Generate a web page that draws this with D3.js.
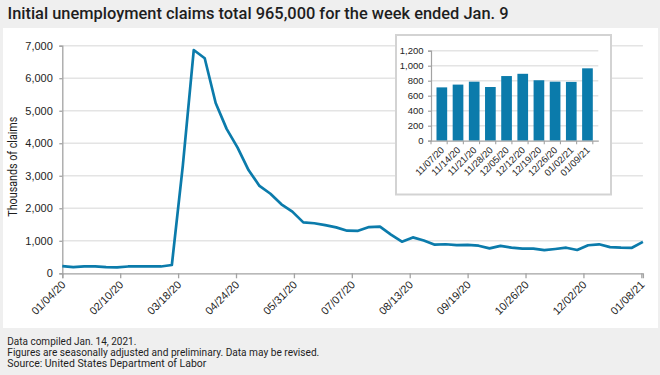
<!DOCTYPE html>
<html>
<head>
<meta charset="utf-8">
<script src="https://cdn.jsdelivr.net/npm/d3@7"></script>
<style>
  html, body { margin: 0; padding: 0; background: #efefef; }
  svg { display: block; }
</style>
</head>
<body>
<div id="chart"></div>
<script>
// weekly initial claims, thousands (week ending)
var weeks = [
  '01/04/20', '01/11/20', '01/18/20', '01/25/20', '02/01/20', '02/08/20', '02/15/20', '02/22/20', '02/29/20',
  '03/07/20', '03/14/20', '03/21/20', '03/28/20', '04/04/20', '04/11/20', '04/18/20', '04/25/20',
  '05/02/20', '05/09/20', '05/16/20', '05/23/20', '05/30/20', '06/06/20', '06/13/20', '06/20/20', '06/27/20',
  '07/04/20', '07/11/20', '07/18/20', '07/25/20', '08/01/20', '08/08/20', '08/15/20', '08/22/20', '08/29/20',
  '09/05/20', '09/12/20', '09/19/20', '09/26/20', '10/03/20', '10/10/20', '10/17/20', '10/24/20', '10/31/20',
  '11/07/20', '11/14/20', '11/21/20', '11/28/20', '12/05/20', '12/12/20', '12/19/20', '12/26/20',
  '01/02/21', '01/09/21'
];
var claims = [
  220, 190, 210, 210, 190, 185, 210, 215, 215,
  210, 255, 3307, 6867, 6615, 5237, 4442, 3867,
  3176, 2687, 2446, 2123, 1897, 1566, 1540, 1482, 1413,
  1310, 1307, 1422, 1435, 1191, 971, 1104, 1011, 881,
  893, 866, 873, 849, 767, 845, 791, 758, 757,
  711, 748, 787, 716, 862, 892, 806, 787,
  784, 965
];
var xTicks = ['01/04/20', '02/10/20', '03/18/20', '04/24/20', '05/31/20', '07/07/20',
  '08/13/20', '09/19/20', '10/26/20', '12/02/20', '01/08/21'];
var yTicks = [0, 1000, 2000, 3000, 4000, 5000, 6000, 7000];

// inset: last ten weeks
var recentWeeks = ['11/07/20', '11/14/20', '11/21/20', '11/28/20', '12/05/20',
  '12/12/20', '12/19/20', '12/26/20', '01/02/21', '01/09/21'];
var recentClaims = [711, 748, 787, 716, 862, 892, 806, 787, 784, 965];
var insetTicks = [0, 200, 400, 600, 800, 1000, 1200];

var title = 'Initial unemployment claims total 965,000 for the week ended Jan. 9';
var notes = [
  'Data compiled Jan. 14, 2021.',
  'Figures are seasonally adjusted and preliminary. Data may be revised.',
  'Source: United States Department of Labor'
];

var W = 660, H = 375;
var blue = '#0b7bab';
var gridColor = '#e4e4e4';
var axisColor = '#a3a3a3';
var labelFont = '"Liberation Sans", Arial, sans-serif';
var condFont = 'Roboto, "Liberation Sans", sans-serif';

var svg = d3.select('#chart').append('svg').attr('width', W).attr('height', H);

svg.append('rect').attr('width', W).attr('height', H).attr('fill', '#efefef');
svg.append('rect').attr('x', 3).attr('y', 28).attr('width', 655).attr('height', 300).attr('fill', '#fff');

svg.append('text')
  .attr('x', 7.5).attr('y', 19)
  .attr('font-family', condFont).attr('font-weight', 500).attr('font-size', 17)
  .attr('fill', '#1e1e1e')
  .attr('textLength', 501).attr('lengthAdjust', 'spacingAndGlyphs')
  .text(title);

//main chart
var parse = d3.utcParse('%m/%d/%y');
var x = d3.scaleUtc().domain([parse(weeks[0]), parse(weeks[weeks.length - 1])]).range([62.3, 642.9]);
var y = d3.scaleLinear().domain([0, 7000]).range([273.3, 45.7]);

var grid = svg.append('g');
grid.selectAll('line')
  .data(yTicks.filter(function(d) { return d > 0; }))
  .enter()
  .append('line')
  .attr('x1', x.range()[0]).attr('x2', x.range()[1])
  .attr('y1', function(d) { return y(d); })
  .attr('y2', function(d) { return y(d); })
  .attr('stroke', gridColor).attr('stroke-width', 1.6);

var yAxis = svg.append('g')
  .attr('transform', 'translate(' + x.range()[0] + ',0)')
  .call(d3.axisLeft(y).tickValues(yTicks).tickSize(3).tickPadding(6.5).tickFormat(d3.format(',')));

var xAxis = svg.append('g')
  .attr('transform', 'translate(0,' + y(0) + ')')
  .call(d3.axisBottom(x).tickValues(xTicks.map(parse)).tickSize(5).tickFormat(d3.utcFormat('%m/%d/%y')));

xAxis.selectAll('text')
  .attr('text-anchor', 'end')
  .attr('dy', 0)
  .attr('y', 0)
  .attr('transform', 'translate(3.5,12) rotate(-45)');

[xAxis, yAxis].forEach(function(a) {
  a.select('.domain').attr('stroke', axisColor).attr('stroke-width', 1.3);
  a.selectAll('.tick line').attr('stroke', axisColor).attr('stroke-width', 1.3);
  a.selectAll('text').attr('font-family', labelFont).attr('font-size', 11).attr('fill', '#1e1e1e');
});

svg.append('text')
  .attr('transform', 'translate(16.5,166.7) rotate(-90)')
  .attr('text-anchor', 'middle')
  .attr('font-family', condFont).attr('font-size', 12).attr('fill', '#1e1e1e')
  .attr('textLength', 100).attr('lengthAdjust', 'spacingAndGlyphs')
  .text('Thousands of claims');

var line = d3.line()
  .x(function(d, i) { return x(parse(weeks[i])); })
  .y(function(d) { return y(d); });

svg.append('path')
  .datum(claims)
  .attr('d', line)
  .attr('fill', 'none')
  .attr('stroke', blue)
  .attr('stroke-width', 2.7)
  .attr('stroke-linejoin', 'round');

// inset bar chart
var inset = svg.append('g');
inset.append('rect')
  .attr('x', 396).attr('y', 35).attr('width', 215).attr('height', 159.5)
  .attr('fill', '#fff').attr('stroke', '#d3d3d3').attr('stroke-width', 2);

var xi = d3.scaleBand().domain(recentWeeks).range([431, 598.3]).paddingInner(0.34).paddingOuter(0.34);
var yi = d3.scaleLinear().domain([0, 1200]).range([140.7, 50.7]);

inset.append('g').selectAll('line')
  .data(insetTicks.filter(function(d) { return d > 0; }))
  .enter()
  .append('line')
  .attr('x1', xi.range()[0]).attr('x2', xi.range()[1])
  .attr('y1', function(d) { return yi(d); })
  .attr('y2', function(d) { return yi(d); })
  .attr('stroke', gridColor).attr('stroke-width', 1.4);

inset.append('g').selectAll('rect')
  .data(recentClaims)
  .enter()
  .append('rect')
  .attr('x', function(d, i) { return xi(recentWeeks[i]); })
  .attr('width', xi.bandwidth())
  .attr('y', function(d) { return yi(d); })
  .attr('height', function(d) { return yi(0) - yi(d); })
  .attr('fill', blue);

var yiAxis = inset.append('g')
  .attr('transform', 'translate(' + xi.range()[0] + ',0)')
  .call(d3.axisLeft(yi).tickValues(insetTicks).tickSize(3).tickPadding(4.5).tickFormat(d3.format(',')));

var xiAxis = inset.append('g')
  .attr('transform', 'translate(0,' + yi(0) + ')')
  .call(d3.axisBottom(xi).tickSize(0).tickPadding(0));

// category tick marks between bars
var step = xi.step();
inset.append('g').selectAll('line')
  .data(d3.range(recentWeeks.length + 1))
  .enter()
  .append('line')
  .attr('x1', function(d) { return xi.range()[0] + d * step; })
  .attr('x2', function(d) { return xi.range()[0] + d * step; })
  .attr('y1', yi(0)).attr('y2', yi(0) + 3.5)
  .attr('stroke', axisColor).attr('stroke-width', 1.1);

xiAxis.selectAll('text')
  .attr('text-anchor', 'end')
  .attr('dy', 0)
  .attr('y', 0)
  .attr('transform', 'translate(3,10) rotate(-45)');

[xiAxis, yiAxis].forEach(function(a) {
  a.select('.domain').attr('stroke', axisColor).attr('stroke-width', 1.2);
  a.selectAll('.tick line').attr('stroke', axisColor).attr('stroke-width', 1.2);
  a.selectAll('text').attr('font-family', labelFont).attr('font-size', 9.5).attr('fill', '#1e1e1e');
});

// footer notes
var noteWidths = [129, 312, 199];
svg.append('g').selectAll('text')
  .data(notes)
  .enter()
  .append('text')
  .attr('x', 7.3)
  .attr('y', function(d, i) { return 345 + i * 10.8; })
  .attr('font-family', condFont).attr('font-size', 11).attr('fill', '#1e1e1e')
  .attr('textLength', function(d, i) { return noteWidths[i]; })
  .attr('lengthAdjust', 'spacingAndGlyphs')
  .text(function(d) { return d; });
</script>
</body>
</html>
